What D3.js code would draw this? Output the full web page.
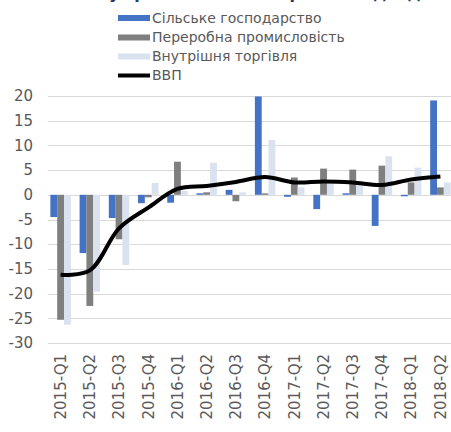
<!DOCTYPE html>
<html>
<head>
<meta charset="utf-8">
<script src="https://cdn.jsdelivr.net/npm/d3@7"></script>
<style>
  body { margin: 0; background: #fff; }
  text { font-family: "DejaVu Sans", sans-serif; }
</style>
</head>
<body>
<div id="chart"></div>
<script>
const quarters = ["2015-Q1", "2015-Q2", "2015-Q3", "2015-Q4", "2016-Q1", "2016-Q2", "2016-Q3",
  "2016-Q4", "2017-Q1", "2017-Q2", "2017-Q3", "2017-Q4", "2018-Q1", "2018-Q2"];
const agriculture = [-4.5, -11.8, -4.7, -1.7, -1.6, 0.3, 1.0, 19.9, -0.4, -2.9, 0.3, -6.3, -0.3, 19.1];
const manufacturing = [-25.3, -22.5, -9.0, -0.5, 6.7, 0.5, -1.3, 0.3, 3.5, 5.3, 5.1, 5.9, 2.5, 1.5];
const trade = [-26.3, -19.6, -14.2, 2.4, 0.8, 6.5, 0.5, 11.1, 1.5, 2.3, 2.0, 7.8, 5.5, 2.5];
const gdp = [-16.2, -15.3, -6.8, -2.6, 1.2, 1.8, 2.6, 3.6, 2.5, 2.7, 2.5, 2.0, 3.1, 3.7];
const yTicks = [-30, -25, -20, -15, -10, -5, 0, 5, 10, 15, 20];

const seriesNames = ["Сільське господарство", "Переробна промисловість", "Внутрішня торгівля"];
const seriesColors = ["#4472c4", "#7f7f7f", "#dae1ef"];
const seriesValues = [agriculture, manufacturing, trade];

const width = 451, height = 432;

const svg = d3.select("#chart")
  .append("svg")
  .attr("width", width)
  .attr("height", height);

const x0 = d3.scaleBand()
  .domain(quarters)
  .range([46, 455])
  .paddingInner(0.3)
  .paddingOuter(0.15);

const x1 = d3.scaleBand()
  .domain(d3.range(3))
  .range([0, x0.bandwidth()]);

const y = d3.scaleLinear()
  .domain([-30, 20])
  .range([343, 96]);

// title, almost all of it cut off above the top edge
svg.append("text")
  .attr("x", 38)
  .attr("y", -1)
  .attr("font-weight", "bold")
  .attr("font-size", 16)
  .attr("fill", "#1f3864")
  .text("Внесок у зростання ВВП окремих видів діяльності, в.п. (р/р)");

// gridlines
svg.append("g")
  .selectAll("line")
  .data(yTicks)
  .join("line")
  .attr("x1", 48)
  .attr("x2", width)
  .attr("y1", d => Math.round(y(d)) + 0.5)
  .attr("y2", d => Math.round(y(d)) + 0.5)
  .attr("stroke", "#d9d9d9");

// y labels
svg.append("g")
  .selectAll("text")
  .data(yTicks)
  .join("text")
  .attr("x", 33)
  .attr("y", d => y(d))
  .attr("dy", "0.35em")
  .attr("text-anchor", "end")
  .attr("font-size", 15)
  .attr("fill", "#595959")
  .text(d => d);

// bars
seriesValues.forEach((values, s) => {
  svg.append("g")
    .selectAll("rect")
    .data(values)
    .join("rect")
    .attr("x", (d, i) => x0(quarters[i]) + x1(s))
    .attr("width", x1.bandwidth())
    .attr("y", d => y(Math.max(0, d)))
    .attr("height", d => Math.abs(y(d) - y(0)))
    .attr("fill", seriesColors[s]);
});

// GDP line
const line = d3.line()
  .x((d, i) => x0(quarters[i]) + x0.bandwidth() / 2)
  .y(d => y(d))
  .curve(d3.curveCatmullRom);

svg.append("path")
  .datum(gdp)
  .attr("fill", "none")
  .attr("stroke", "#000")
  .attr("stroke-width", 4)
  .attr("stroke-linejoin", "round")
  .attr("d", line);

// x labels
svg.append("g")
  .selectAll("text")
  .data(quarters)
  .join("text")
  .attr("transform", d => `translate(${x0(d) + x0.bandwidth() / 2},354) rotate(-90)`)
  .attr("dy", "0.35em")
  .attr("text-anchor", "end")
  .attr("font-size", 15)
  .attr("fill", "#595959")
  .text(d => d);

// legend
const legendY = [18, 37.5, 56.5, 75.5];
const legend = svg.append("g");

seriesNames.forEach((name, i) => {
  legend.append("rect")
    .attr("x", 118)
    .attr("y", legendY[i] - 3)
    .attr("width", 32)
    .attr("height", 6)
    .attr("fill", seriesColors[i]);
  legend.append("text")
    .attr("x", 152)
    .attr("y", legendY[i])
    .attr("dy", "0.35em")
    .attr("font-size", 14)
    .attr("fill", "#595959")
    .text(name);
});

legend.append("line")
  .attr("x1", 118)
  .attr("x2", 150)
  .attr("y1", legendY[3])
  .attr("y2", legendY[3])
  .attr("stroke", "#000")
  .attr("stroke-width", 4);

legend.append("text")
  .attr("x", 152)
  .attr("y", legendY[3])
  .attr("dy", "0.35em")
  .attr("font-size", 14)
  .attr("fill", "#595959")
  .text("ВВП");
</script>
</body>
</html>
